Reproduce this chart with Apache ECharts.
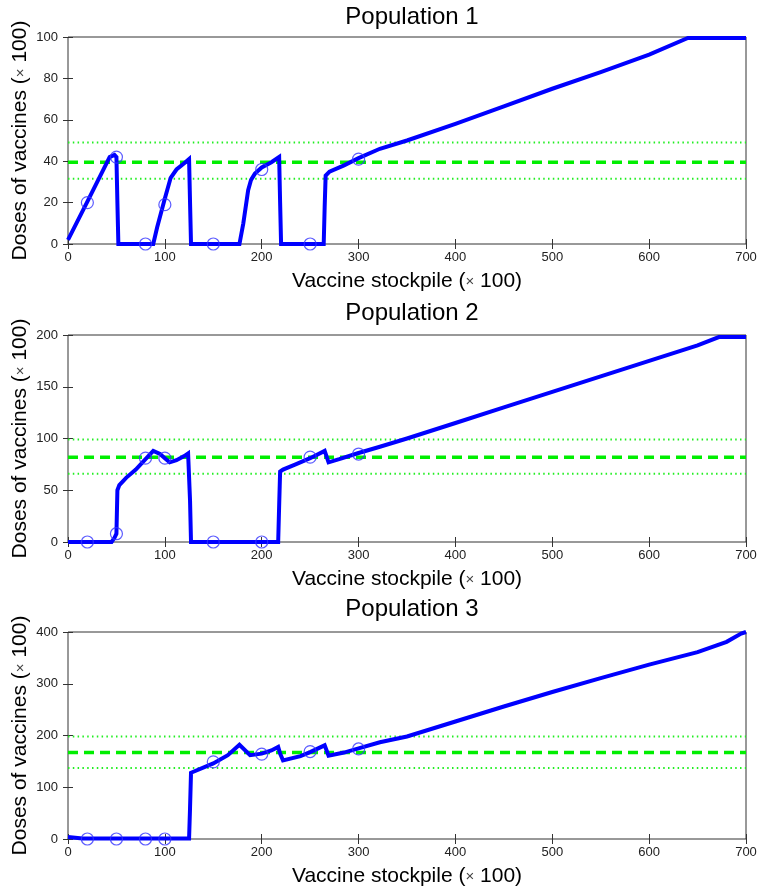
<!DOCTYPE html>
<html>
<head>
<meta charset="utf-8">
<title>Vaccine stockpile</title>
<script src="https://cdn.jsdelivr.net/npm/echarts@6/dist/echarts.min.js"></script>
<style>
  html, body { margin: 0; padding: 0; background: #fff; }
  #chartBox { width: 759px; height: 894px; }
</style>
</head>
<body>
<div id="chartBox"></div>
<script>
// x range of the reference lines
var xRange = [0, 700]

// Population 1
var pop1X = [0, 20, 43, 48, 50, 51, 52, 88, 92, 100, 106, 112, 120, 125, 126, 127, 177, 181, 186, 189, 193, 200, 210, 218, 219, 220, 264, 265, 266, 270, 285, 300, 322, 350, 400, 450, 500, 550, 600, 640, 700]
var pop1Y = [2, 20.5, 42, 43, 42, 20, 0, 0, 8, 22, 32, 36, 39, 41, 20, 0, 0, 10, 26, 31, 34, 37, 39.5, 42, 20, 0, 0, 18, 33, 35, 38, 41.5, 46, 50, 58, 66.5, 75, 83, 91.5, 99.5, 99.5]
var pop1MarkX = [20, 50, 80, 100, 150, 200, 250, 300]
var pop1MarkY = [20, 42, 0, 19, 0, 36, 0, 41]
var pop1Mean = 39.5
var pop1Band = [31.5, 49]

// Population 2
var pop2X = [0, 45, 48, 50, 51, 53, 60, 70, 81, 88, 95, 100, 105, 112, 120, 124, 126, 127, 217, 218, 219, 222, 235, 250, 265, 269, 280, 300, 322, 350, 400, 450, 500, 550, 600, 650, 672, 700]
var pop2Y = [0, 0, 4, 8, 50, 55, 62, 70, 81, 88, 85, 81, 77, 79, 83, 85.5, 40, 0, 0, 35, 68, 70, 75, 81, 88, 77, 80, 86, 92, 100, 115, 130, 145, 160, 175, 190, 198, 198]
var pop2MarkX = [20, 50, 80, 100, 150, 200, 250, 300]
var pop2MarkY = [0, 8, 81, 81, 0, 0, 82, 85]
var pop2Mean = 82
var pop2Band = [66, 99]

// Population 3
var pop3X = [0, 15, 100, 125, 126, 127, 128, 150, 165, 177, 188, 200, 210, 217, 219, 222, 240, 250, 265, 269, 285, 300, 322, 350, 400, 450, 500, 550, 600, 650, 680, 695, 700]
var pop3Y = [4, 1, 1, 1, 60, 128, 130, 146, 162, 182, 162, 165, 171, 178, 165, 152, 160, 168, 181, 161, 167, 175, 187, 198, 227, 256, 284, 311, 337, 361, 381, 397, 400]
var pop3MarkX = [20, 50, 80, 100, 150, 200, 250, 300]
var pop3MarkY = [0, 0, 0, 0, 149, 164, 169, 174]
var pop3Mean = 167
var pop3Band = [137, 198]

var titles = ['Population 1', 'Population 2', 'Population 3']
var yMax = [100, 200, 400]
var yStep = [20, 50, 100]

function zip (xs, ys) {
  var out = []
  for (var i = 0; i < xs.length; i++) {
    out.push([xs[i], ys[i]])
  }
  return out
}

function hline (v) {
  return [[xRange[0], v], [xRange[1], v]]
}

var myChart = echarts.init(document.getElementById('chartBox'))

var gridTops = [37, 335, 632]
var titleTops = [0, 296, 592]
var grids = []
var xAxes = []
var yAxes = []
var titleList = []
var tickColor = '#333'
var labelFont = 'Arial, "Liberation Sans", sans-serif'

for (var g = 0; g < 3; g++) {
  grids.push({
    left: 68,
    right: 13,
    top: gridTops[g],
    height: 207,
    containLabel: false,
    outerBoundsMode: 'none',
    show: true,
    borderColor: '#333',
    borderWidth: 1,
    backgroundColor: '#fff'
  })
  titleList.push({
    text: titles[g],
    left: 407,
    top: titleTops[g],
    textAlign: 'center',
    textStyle: { fontSize: 24, fontWeight: 'normal', color: '#000', fontFamily: labelFont }
  })
  // bottom x axis
  xAxes.push({
    type: 'value',
    gridIndex: g,
    min: 0,
    max: 700,
    interval: 100,
    position: 'bottom',
    name: '{a|Vaccine stockpile (}{b|×}{a| 100)}',
    nameLocation: 'middle',
    nameGap: 27,
    nameTextStyle: {
      rich: {
        a: { fontSize: 21, color: '#000', fontFamily: labelFont },
        b: { fontSize: 15, color: '#444', fontFamily: labelFont }
      }
    },
    axisLine: { show: false },
    axisTick: { inside: true, length: 5, lineStyle: { color: tickColor } },
    axisLabel: { fontSize: 13, color: '#222', margin: 7, fontFamily: labelFont },
    splitLine: { show: false }
  })
  // top x axis, ticks only
  xAxes.push({
    type: 'value',
    gridIndex: g,
    min: 0,
    max: 700,
    interval: 100,
    position: 'top',
    axisLine: { show: false },
    axisTick: { inside: true, length: 5, lineStyle: { color: tickColor } },
    axisLabel: { show: false },
    splitLine: { show: false }
  })
  // left y axis
  yAxes.push({
    type: 'value',
    gridIndex: g,
    min: 0,
    max: yMax[g],
    interval: yStep[g],
    position: 'left',
    name: '{a|Doses of vaccines (}{b|×}{a| 100)}',
    nameLocation: 'middle',
    nameGap: 37,
    nameMoveOverlap: false,
    nameRotate: 90,
    nameTextStyle: {
      rich: {
        a: { fontSize: 21, color: '#000', fontFamily: labelFont },
        b: { fontSize: 15, color: '#444', fontFamily: labelFont }
      }
    },
    axisLine: { show: false },
    axisTick: { inside: true, length: 5, lineStyle: { color: tickColor } },
    axisLabel: { fontSize: 13, color: '#222', margin: 10, fontFamily: labelFont },
    splitLine: { show: false }
  })
  // right y axis, ticks only
  yAxes.push({
    type: 'value',
    gridIndex: g,
    min: 0,
    max: yMax[g],
    interval: yStep[g],
    position: 'right',
    axisLine: { show: false },
    axisTick: { inside: true, length: 5, lineStyle: { color: tickColor } },
    axisLabel: { show: false },
    splitLine: { show: false }
  })
}

var curves = [zip(pop1X, pop1Y), zip(pop2X, pop2Y), zip(pop3X, pop3Y)]
var marks = [zip(pop1MarkX, pop1MarkY), zip(pop2MarkX, pop2MarkY), zip(pop3MarkX, pop3MarkY)]
var means = [pop1Mean, pop2Mean, pop3Mean]
var bands = [pop1Band, pop2Band, pop3Band]

var series = []
for (var k = 0; k < 3; k++) {
  var xi = k * 2
  var yi = k * 2
  // dotted band lines
  for (var b = 0; b < 2; b++) {
    series.push({
      type: 'line',
      xAxisIndex: xi,
      yAxisIndex: yi,
      data: hline(bands[k][b]),
      showSymbol: false,
      silent: true,
      lineStyle: { color: '#22ee22', width: 2, type: [1.5, 3.3] },
      z: 2
    })
  }
  // dashed mean line
  series.push({
    type: 'line',
    xAxisIndex: xi,
    yAxisIndex: yi,
    data: hline(means[k]),
    showSymbol: false,
    silent: true,
    lineStyle: { color: '#00ee00', width: 3.5, type: [10, 6] },
    z: 3
  })
  // main curve
  series.push({
    type: 'line',
    xAxisIndex: xi,
    yAxisIndex: yi,
    data: curves[k],
    showSymbol: false,
    silent: true,
    lineStyle: { color: '#0000ff', width: 4, join: 'miter' },
    z: 4
  })
  // open circle markers
  series.push({
    type: 'scatter',
    xAxisIndex: xi,
    yAxisIndex: yi,
    data: marks[k],
    symbol: 'circle',
    symbolSize: 12,
    silent: true,
    itemStyle: { color: 'rgba(0,0,0,0)', borderColor: '#3333ff', borderWidth: 1.2 },
    z: 5
  })
}

var option = {
  backgroundColor: '#fff',
  animation: false,
  title: titleList,
  grid: grids,
  xAxis: xAxes,
  yAxis: yAxes,
  series: series
}
myChart.setOption(option)
</script>
</body>
</html>
